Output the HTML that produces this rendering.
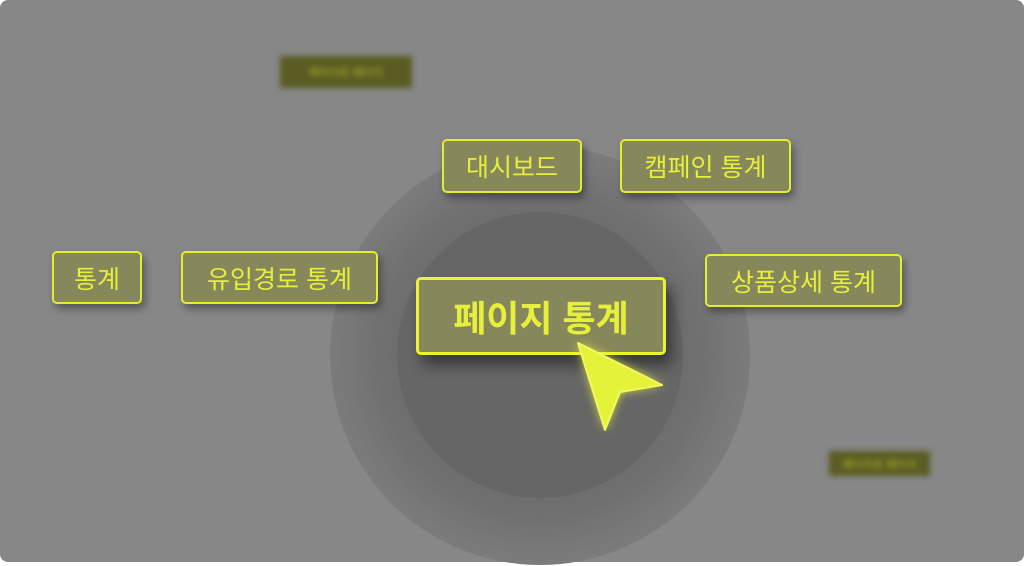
<!DOCTYPE html>
<html><head><meta charset="utf-8"><style>
body{margin:0;width:1024px;height:566px;overflow:hidden;background:#fff;font-family:"Liberation Sans","Noto Sans CJK KR",sans-serif}
.bg{position:absolute;left:0;top:0;width:1024px;height:562px;background:#878787;border-radius:8px}
.c{position:absolute;border-radius:50%}
.b{position:absolute;box-sizing:border-box;border:2.5px solid #e2ef2e;border-radius:5px;background:#86875a;color:#e6f03c;display:flex;align-items:center;justify-content:center;font-size:25px;box-shadow:3px 5px 8px rgba(0,0,0,.35)}
.bl{position:absolute;background:#5a5c22;filter:blur(3px);color:#a9b82a;font-size:11px;display:flex;align-items:center;justify-content:center}
</style></head><body>
<div class="bg"></div>
<div class="c" style="left:330px;top:145px;width:420px;height:420px;background:radial-gradient(circle,#727272 55%,#7c7c7c 72%,#838383 88%,#878787 100%)"></div>
<div class="c" style="left:397px;top:212px;width:286px;height:286px;background:#666;box-shadow:0 0 25px 12px #6e6e6e"></div>
<div class="bl" style="left:280px;top:56px;width:132px;height:32px">페이지로 페이지</div>
<div class="bl" style="left:829px;top:451px;width:101px;height:25px">페이지로 페이지</div>
<div class="b" style="left:52px;top:251px;width:90px;height:53px">통계</div>
<div class="b" style="left:181px;top:251px;width:197px;height:53px">유입경로 통계</div>
<div class="b" style="left:442px;top:139px;width:140px;height:54px">대시보드</div>
<div class="b" style="left:620px;top:139px;width:171px;height:54px">캠페인 통계</div>
<div class="b" style="left:705px;top:254px;width:197px;height:53px">상품상세 통계</div>
<div class="b" style="left:416px;top:277px;width:250px;height:78px;font-size:36px;font-weight:bold;border-width:3px;border-color:#eaf530;box-shadow:6px 10px 14px rgba(0,0,0,.45)">페이지 통계</div>
<svg style="position:absolute;left:0;top:0" width="1024" height="566">
<defs><filter id="g" x="-50%" y="-50%" width="200%" height="200%"><feGaussianBlur stdDeviation="5"/></filter></defs>
<polygon points="578,343 662,385 620,392 605,430" fill="#e8f53a" filter="url(#g)" opacity=".9"/>
<polygon points="578,343 662,385 620,392 605,430" fill="#e4f23a" stroke="#f0fa60" stroke-width="2" stroke-linejoin="round"/>
</svg>
</body></html>
